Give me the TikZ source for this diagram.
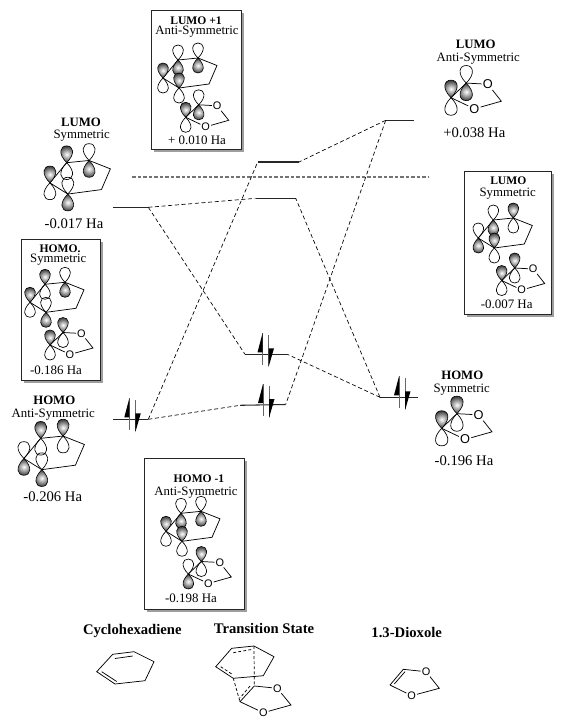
\documentclass[tikz,border=0pt]{standalone}
\usepackage{fontspec}
\setmainfont{Liberation Serif}
\newfontfamily\atomfont{Liberation Sans}
\definecolor{shadowc}{gray}{0.62}
\tikzset{
  bond/.style={line width=.55pt,black},
  lf/.style={draw=black,line width=.45pt,inner color=white,outer color=black!78},
  lo/.style={draw=black,line width=.5pt},
  sub/.style={inner sep=0pt,font=\fontsize{9.6}{11}\selectfont},
  headtxt/.style={inner sep=0pt,font=\fontsize{9.6}{11}\selectfont\bfseries},
  headbox/.style={inner sep=0pt,font=\fontsize{8.7}{10}\selectfont\bfseries},
  big/.style={inner sep=0pt,font=\fontsize{11}{12}\selectfont},
  boxen/.style={inner sep=0pt,font=\fontsize{9.7}{11}\selectfont},
  captxt/.style={inner sep=0pt,font=\fontsize{11}{12}\selectfont\bfseries},
  atomO/.style={inner sep=.6pt,transform shape,font=\atomfont\fontsize{8.2}{9}\selectfont},
  enlevel/.style={line width=.8pt,black!85},
  corr/.style={line width=.5pt,dash pattern=on 3pt off 2pt},
  frontier/.style={line width=.8pt,black!55,dash pattern=on 2.6pt off 1.5pt},
  spinline/.style={line width=.45pt,black!60},
  moframe/.style={draw=black!85,line width=.7pt,fill=white}
}
\def\lobeup{(0,0) .. controls (-8,-8) and (-6,-15) .. (0,-15) .. controls (6,-15) and (8,-8) .. (0,0)}
\newcommand\orb[3]{\draw[#2,shift={(#1)}] \lobeup; \draw[#3,shift={(#1)},yscale=-1] \lobeup;}
% ring with four p orbitals: x y scale a b f e (each {up}{down})
\newcommand\ringorb[7]{\begin{scope}[shift={(#1,#2)},scale=#3]
  \draw[bond] (-15,18) -- (0,0) -- (20,-2) -- (39,5.5) -- (31,24) -- (1,28) -- cycle;
  \orb{0,0}#4 \orb{20,-2}#5 \orb{-15,18}#6 \orb{1,28}#7
\end{scope}}
% dioxole with two p orbitals: name x y scale pUp pDown qUp qDown
\newcommand\diox[8]{\begin{scope}[shift={(#2,#3)},scale=#4]
  \coordinate (#1p) at (0,0); \coordinate (#1q) at (13,-12.5); \coordinate (#1c) at (43,3);
  \node[atomO] (#1a) at (31.5,-11.5) {O};
  \node[atomO] (#1b) at (20,9.5) {O};
  \draw[bond] (#1p) -- (#1q) -- (#1a) -- (#1c) -- (#1b) -- (#1p);
  \orb{0,0}{#5}{#6} \orb{13,-12.5}{#7}{#8}
\end{scope}}
\newcommand\mobox[4]{\fill[shadowc,shift={(2.5,2.5)}] (#1,#2) rectangle (#3,#4);
  \draw[moframe] (#1,#2) rectangle (#3,#4);}
\newcommand\spins[2]{\begin{scope}[shift={(#1,#2)}]
  \draw[spinline] (-3,-21) -- (-3,11) (3,-19) -- (3,12);
  \fill[black] (-3,-21) -- (-8,-2) -- (-3,-2) -- cycle;
  \fill[black] (3,13) -- (8.5,-6) -- (3,-6) -- cycle;
\end{scope}}
\begin{document}
\begin{tikzpicture}[x=.75pt,y=-.75pt]
\useasboundingbox (0,0) rectangle (572,725);
% boxes
\mobox{151.7}{10}{241.7}{149}
\mobox{21.7}{239}{100}{380}
\mobox{144.3}{458.3}{244}{609.3}
\mobox{464.3}{171}{551.7}{314}
% levels
\coordinate (lumoLa) at (113.3,207.3); \coordinate (lumoLb) at (148.3,207.3);
\coordinate (homoLa) at (113.3,419.3); \coordinate (homoLb) at (148.3,419.3);
\coordinate (tsAa) at (257.7,162); \coordinate (tsAb) at (299,162);
\coordinate (tsBa) at (255.7,198.3); \coordinate (tsBb) at (295.7,198.3);
\coordinate (tsCa) at (245,354.3); \coordinate (tsCb) at (287.3,354.3);
\coordinate (tsDa) at (240,405.3); \coordinate (tsDb) at (285.7,404.5);
\coordinate (lumoRa) at (385.7,120.3); \coordinate (lumoRb) at (414,120.3);
\coordinate (homoRa) at (380,397.3); \coordinate (homoRb) at (418.3,397.3);
\coordinate (fa) at (132.3,177); \coordinate (fb) at (428.3,177);
\draw[frontier] (fa) -- (fb);
\foreach \p/\q in {lumoLa/lumoLb,homoLa/homoLb,tsAa/tsAb,tsBa/tsBb,tsCa/tsCb,tsDa/tsDb,lumoRa/lumoRb,homoRa/homoRb}
  \draw[enlevel] (\p) -- (\q);
\foreach \p/\q in {lumoLb/tsBa,lumoLb/tsCa,homoLb/tsAa,homoLb/tsDa,lumoRa/tsAb,lumoRa/tsDb,homoRa/tsBb,homoRa/tsCb}
  \draw[corr] (\p) -- (\q);
\spins{132.3}{419.3}
\spins{265.5}{354.3}
\spins{266}{405}
\spins{402}{397.3}
% orbitals
\ringorb{178}{60}{1}{{lo}{lf}}{{lo}{lf}}{{lf}{lo}}{{lf}{lo}}
\diox{m}{185.7}{117.3}{1}{lf}{lo}{lo}{lf}
\ringorb{66.7}{162.7}{1.12}{{lf}{lo}}{{lo}{lf}}{{lf}{lo}}{{lo}{lf}}
\ringorb{45}{284.3}{1}{{lf}{lo}}{{lo}{lf}}{{lf}{lo}}{{lo}{lf}}
\diox{n}{50}{345}{1}{lf}{lo}{lf}{lo}
\ringorb{40.7}{438.3}{1.12}{{lf}{lo}}{{lf}{lo}}{{lo}{lf}}{{lo}{lf}}
\ringorb{181}{513.3}{1}{{lo}{lf}}{{lo}{lf}}{{lf}{lo}}{{lf}{lo}}
\diox{r}{188.3}{574}{1}{lo}{lf}{lf}{lo}
\ringorb{493.3}{220}{1}{{lo}{lf}}{{lf}{lo}}{{lo}{lf}}{{lf}{lo}}
\diox{s}{501.7}{280.5}{1}{lf}{lo}{lf}{lo}
\diox{t}{451}{97.7}{1.17}{lf}{lo}{lo}{lf}
\diox{u}{441.7}{428.3}{1.17}{lf}{lo}{lf}{lo}
% labels
\node[headbox] (t1) at (196,21) {LUMO +1};
\node[sub] (t2) at (197,32) {Anti-Symmetric};
\node[boxen] (t3) at (197,140) {+ 0.010 Ha};
\node[headtxt] (t4) at (81,122.7) {LUMO};
\node[sub] (t5) at (81.7,136) {Symmetric};
\node[big] (t6) at (74,224) {-0.017 Ha};
\node[headbox] (t7) at (60,249) {HOMO.};
\node[sub] (t8) at (58.3,259.5) {Symmetric};
\node[boxen] (t9) at (56,370.7) {-0.186 Ha};
\node[headtxt] (t10) at (54.3,400) {HOMO};
\node[sub] (t11) at (53.3,415) {Anti-Symmetric};
\node[big] (t12) at (52.7,496.7) {-0.206 Ha};
\node[headbox] (t13) at (199,478.3) {HOMO -1};
\node[sub] (t14) at (196,492.5) {Anti-Symmetric};
\node[boxen] (t15) at (191,598.3) {-0.198 Ha};
\node[headtxt] (t16) at (475.7,44) {LUMO};
\node[sub] (t17) at (478.3,59) {Anti-Symmetric};
\node[big] (t18) at (474.3,132.3) {+0.038 Ha};
\node[headbox] (t19) at (508.3,181) {LUMO};
\node[sub] (t20) at (507.7,194) {Symmetric};
\node[boxen] (t21) at (506.7,304) {-0.007 Ha};
\node[headtxt] (t22) at (462.3,375) {HOMO};
\node[sub] (t23) at (461.7,390) {Symmetric};
\node[big] (t24) at (464,460.7) {-0.196 Ha};
\node[captxt] (t25) at (132.3,630.7) {Cyclohexadiene};
\node[captxt] (t26) at (264,628.3) {Transition State};
\node[captxt] (t27) at (406.7,632.3) {1.3-Dioxole};
% cyclohexadiene
\coordinate (c1) at (96.7,671.7); \coordinate (c2) at (112.7,654.3); \coordinate (c3) at (134,651.7);
\coordinate (c4) at (154,661.7); \coordinate (c5) at (145,680.7); \coordinate (c6) at (115,684);
\draw[bond] (c1) -- (c2) -- (c3) -- (c4) -- (c5) -- (c6) -- cycle;
\coordinate (c2i) at (115,658.5); \coordinate (c3i) at (132.7,656);
\coordinate (c1i) at (101.7,671.7); \coordinate (c6i) at (116.7,681.5);
\draw[bond] (c2i) -- (c3i) (c1i) -- (c6i);
% transition state
\coordinate (s1) at (215.7,666.7); \coordinate (s2) at (231.7,648.3); \coordinate (s3) at (254,646);
\coordinate (s4) at (274,656.7); \coordinate (s5) at (263.3,675.7); \coordinate (s6) at (233.3,678.3);
\coordinate (s7) at (254.3,686); \coordinate (s8) at (240,701.7); \coordinate (s9) at (291,705);
\node[atomO] (sa) at (277.3,688.3) {O};
\node[atomO] (sb) at (263.3,712.7) {O};
\draw[bond] (s1) -- (s2) -- (s3) -- (s4) -- (s5) -- (s6) -- cycle;
\draw[bond] (s7) -- (s8) -- (sb) -- (s9) -- (sa) -- (s7);
\coordinate (s2i) at (233.3,652.7); \coordinate (s3i) at (252.7,649.3);
\coordinate (s1i) at (220.7,666.7); \coordinate (s6i) at (233.3,675);
\coordinate (s7i) at (250,686); \coordinate (s8i) at (240,698);
\draw[bond,dash pattern=on 2.2pt off 1.6pt] (s2i) -- (s3i) (s1i) -- (s6i) (s7i) -- (s8i) (s3) -- (s7) (s6) -- (s8);
% dioxole
\coordinate (d1) at (390,685); \coordinate (d2) at (403.3,669.3); \coordinate (d3) at (439.3,688.3);
\node[atomO] (da) at (426,671.7) {O};
\node[atomO] (db) at (411.7,695.7) {O};
\draw[bond] (d1) -- (d2) -- (da) -- (d3) -- (db) -- (d1);
\coordinate (d1i) at (394.3,684); \coordinate (d2i) at (405,671.7);
\draw[bond] (d1i) -- (d2i);
\end{tikzpicture}
\end{document}
